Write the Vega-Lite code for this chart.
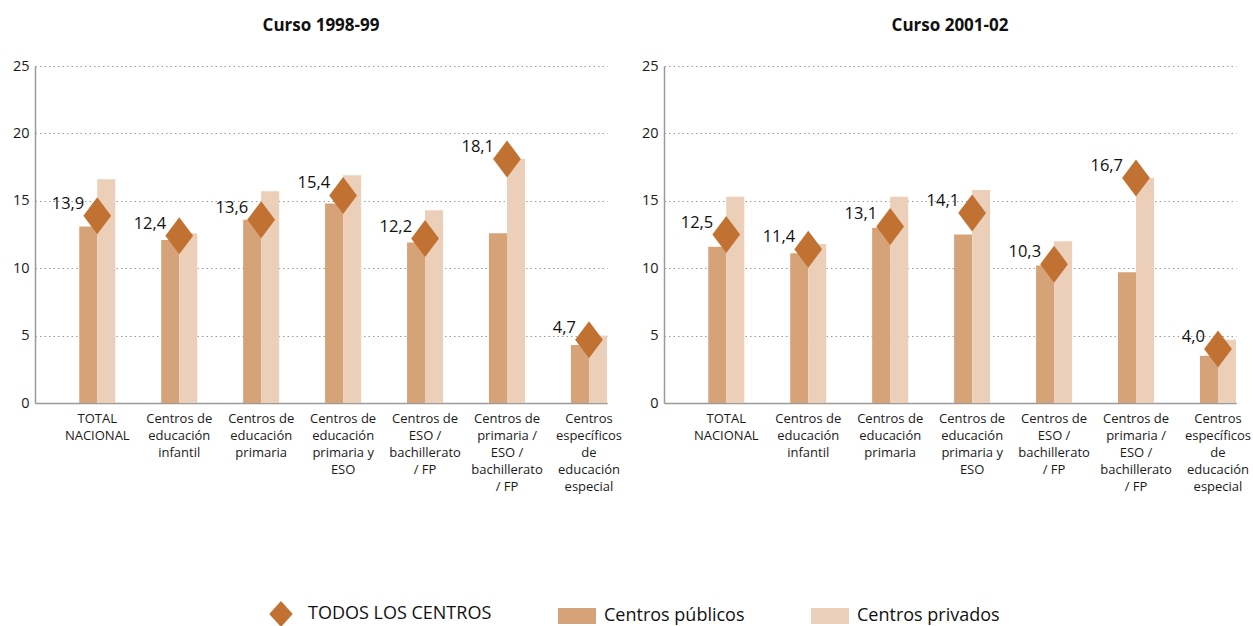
{
  "$schema": "https://vega.github.io/schema/vega-lite/v6.json",
  "padding": {"left": 12, "top": 17, "right": 5, "bottom": 5},
  "config": {
    "locale": {"number": {"decimal": ",", "thousands": ".", "grouping": [3], "currency": ["", " €"]}},
    "font": "Open Sans",
    "view": {"stroke": null},
    "axis": {"labelColor": "#1a1a1a", "titleColor": "#1a1a1a"},
    "legend": {"layout": {"bottom": {"anchor": "middle"}}}
  },
  "data": {"values": [
    {"curso": "Curso 1998-99", "centro": "TOTAL NACIONAL", "tipo": "TODOS LOS CENTROS", "valor": 13.9},
    {"curso": "Curso 1998-99", "centro": "TOTAL NACIONAL", "tipo": "Centros públicos", "valor": 13.1},
    {"curso": "Curso 1998-99", "centro": "TOTAL NACIONAL", "tipo": "Centros privados", "valor": 16.6},
    {"curso": "Curso 1998-99", "centro": "Centros de educación infantil", "tipo": "TODOS LOS CENTROS", "valor": 12.4},
    {"curso": "Curso 1998-99", "centro": "Centros de educación infantil", "tipo": "Centros públicos", "valor": 12.1},
    {"curso": "Curso 1998-99", "centro": "Centros de educación infantil", "tipo": "Centros privados", "valor": 12.6},
    {"curso": "Curso 1998-99", "centro": "Centros de educación primaria", "tipo": "TODOS LOS CENTROS", "valor": 13.6},
    {"curso": "Curso 1998-99", "centro": "Centros de educación primaria", "tipo": "Centros públicos", "valor": 13.6},
    {"curso": "Curso 1998-99", "centro": "Centros de educación primaria", "tipo": "Centros privados", "valor": 15.7},
    {"curso": "Curso 1998-99", "centro": "Centros de educación primaria y ESO", "tipo": "TODOS LOS CENTROS", "valor": 15.4},
    {"curso": "Curso 1998-99", "centro": "Centros de educación primaria y ESO", "tipo": "Centros públicos", "valor": 14.8},
    {"curso": "Curso 1998-99", "centro": "Centros de educación primaria y ESO", "tipo": "Centros privados", "valor": 16.9},
    {"curso": "Curso 1998-99", "centro": "Centros de ESO / bachillerato / FP", "tipo": "TODOS LOS CENTROS", "valor": 12.2},
    {"curso": "Curso 1998-99", "centro": "Centros de ESO / bachillerato / FP", "tipo": "Centros públicos", "valor": 11.9},
    {"curso": "Curso 1998-99", "centro": "Centros de ESO / bachillerato / FP", "tipo": "Centros privados", "valor": 14.3},
    {"curso": "Curso 1998-99", "centro": "Centros de primaria / ESO / bachillerato / FP", "tipo": "TODOS LOS CENTROS", "valor": 18.1},
    {"curso": "Curso 1998-99", "centro": "Centros de primaria / ESO / bachillerato / FP", "tipo": "Centros públicos", "valor": 12.6},
    {"curso": "Curso 1998-99", "centro": "Centros de primaria / ESO / bachillerato / FP", "tipo": "Centros privados", "valor": 18.1},
    {"curso": "Curso 1998-99", "centro": "Centros específicos de educación especial", "tipo": "TODOS LOS CENTROS", "valor": 4.7},
    {"curso": "Curso 1998-99", "centro": "Centros específicos de educación especial", "tipo": "Centros públicos", "valor": 4.3},
    {"curso": "Curso 1998-99", "centro": "Centros específicos de educación especial", "tipo": "Centros privados", "valor": 5.0},
    {"curso": "Curso 2001-02", "centro": "TOTAL NACIONAL", "tipo": "TODOS LOS CENTROS", "valor": 12.5},
    {"curso": "Curso 2001-02", "centro": "TOTAL NACIONAL", "tipo": "Centros públicos", "valor": 11.6},
    {"curso": "Curso 2001-02", "centro": "TOTAL NACIONAL", "tipo": "Centros privados", "valor": 15.3},
    {"curso": "Curso 2001-02", "centro": "Centros de educación infantil", "tipo": "TODOS LOS CENTROS", "valor": 11.4},
    {"curso": "Curso 2001-02", "centro": "Centros de educación infantil", "tipo": "Centros públicos", "valor": 11.1},
    {"curso": "Curso 2001-02", "centro": "Centros de educación infantil", "tipo": "Centros privados", "valor": 11.8},
    {"curso": "Curso 2001-02", "centro": "Centros de educación primaria", "tipo": "TODOS LOS CENTROS", "valor": 13.1},
    {"curso": "Curso 2001-02", "centro": "Centros de educación primaria", "tipo": "Centros públicos", "valor": 13.0},
    {"curso": "Curso 2001-02", "centro": "Centros de educación primaria", "tipo": "Centros privados", "valor": 15.3},
    {"curso": "Curso 2001-02", "centro": "Centros de educación primaria y ESO", "tipo": "TODOS LOS CENTROS", "valor": 14.1},
    {"curso": "Curso 2001-02", "centro": "Centros de educación primaria y ESO", "tipo": "Centros públicos", "valor": 12.5},
    {"curso": "Curso 2001-02", "centro": "Centros de educación primaria y ESO", "tipo": "Centros privados", "valor": 15.8},
    {"curso": "Curso 2001-02", "centro": "Centros de ESO / bachillerato / FP", "tipo": "TODOS LOS CENTROS", "valor": 10.3},
    {"curso": "Curso 2001-02", "centro": "Centros de ESO / bachillerato / FP", "tipo": "Centros públicos", "valor": 10.2},
    {"curso": "Curso 2001-02", "centro": "Centros de ESO / bachillerato / FP", "tipo": "Centros privados", "valor": 12.0},
    {"curso": "Curso 2001-02", "centro": "Centros de primaria / ESO / bachillerato / FP", "tipo": "TODOS LOS CENTROS", "valor": 16.7},
    {"curso": "Curso 2001-02", "centro": "Centros de primaria / ESO / bachillerato / FP", "tipo": "Centros públicos", "valor": 9.7},
    {"curso": "Curso 2001-02", "centro": "Centros de primaria / ESO / bachillerato / FP", "tipo": "Centros privados", "valor": 16.7},
    {"curso": "Curso 2001-02", "centro": "Centros específicos de educación especial", "tipo": "TODOS LOS CENTROS", "valor": 4.0},
    {"curso": "Curso 2001-02", "centro": "Centros específicos de educación especial", "tipo": "Centros públicos", "valor": 3.5},
    {"curso": "Curso 2001-02", "centro": "Centros específicos de educación especial", "tipo": "Centros privados", "valor": 4.7}
  ]},
  "facet": {
    "column": {
      "field": "curso", "type": "nominal",
      "sort": ["Curso 1998-99", "Curso 2001-02"],
      "header": {"title": null, "labelFontSize": 17, "labelFontWeight": "bold", "labelColor": "#111", "labelPadding": 23, "labelFont": "Open Sans"}
    }
  },
  "spacing": 19,
  "resolve": {"axis": {"y": "independent", "x": "independent"}},
  "spec": {
    "width": 572,
    "height": 337,
    "encoding": {
      "x": {
        "field": "centro", "type": "nominal",
        "sort": ["TOTAL NACIONAL", "Centros de educación infantil", "Centros de educación primaria", "Centros de educación primaria y ESO", "Centros de ESO / bachillerato / FP", "Centros de primaria / ESO / bachillerato / FP", "Centros específicos de educación especial"],
        "scale": {"paddingInner": 0.56, "paddingOuter": 0.27, "align": 1},
        "axis": {
          "title": null, "labelAngle": 0, "ticks": false, "domainColor": "#9a9a9a", "domainWidth": 1.5,
          "labelFontSize": 13, "labelLineHeight": 17, "labelPadding": 9, "labelBaseline": "top",
          "labelExpr": "datum.label == 'TOTAL NACIONAL' ? ['TOTAL', 'NACIONAL'] : datum.label == 'Centros de educación infantil' ? ['Centros de', 'educación', 'infantil'] : datum.label == 'Centros de educación primaria' ? ['Centros de', 'educación', 'primaria'] : datum.label == 'Centros de educación primaria y ESO' ? ['Centros de', 'educación', 'primaria y', 'ESO'] : datum.label == 'Centros de ESO / bachillerato / FP' ? ['Centros de', 'ESO /', 'bachillerato', '/ FP'] : datum.label == 'Centros de primaria / ESO / bachillerato / FP' ? ['Centros de', 'primaria /', 'ESO /', 'bachillerato', '/ FP'] : ['Centros', 'específicos', 'de', 'educación', 'especial']"
        }
      },
      "y": {
        "field": "valor", "type": "quantitative",
        "scale": {"domain": [0, 25]},
        "axis": {
          "title": null, "values": [0, 5, 10, 15, 20, 25], "ticks": false, "domainColor": "#9a9a9a", "domainWidth": 1.5,
          "gridColor": "#9a9a9a", "gridDash": [1.5, 3], "gridWidth": 1,
          "labelFontSize": 14.5, "labelPadding": 6
        }
      }
    },
    "layer": [
      {
        "transform": [{"filter": "datum.tipo != 'TODOS LOS CENTROS'"}],
        "mark": {"type": "bar"},
        "encoding": {
          "xOffset": {"field": "tipo", "type": "nominal", "sort": ["Centros públicos", "Centros privados"], "scale": {"paddingInner": 0, "paddingOuter": 0}},
          "color": {
            "field": "tipo", "type": "nominal",
            "scale": {"domain": ["TODOS LOS CENTROS", "Centros públicos", "Centros privados"], "range": ["#C17233", "#D6A378", "#EBCFB9"]},
            "legend": {
              "title": null, "orient": "bottom", "direction": "horizontal", "offset": 102,
              "labelFontSize": 18, "labelColor": "#111", "labelLimit": 400, "columnPadding": 66, "labelOffset": 8,
              "symbolSize": 1444, "symbolOpacity": 1, "symbolStrokeWidth": 0,
              "encode": {"symbols": {"update": {"shape": {"signal": "datum.value === 'TODOS LOS CENTROS' ? 'M0,-0.68L0.62,0L0,0.68L-0.62,0Z' : 'M-1,-0.42H1V0.42H-1Z'"}}}}
            }
          }
        }
      },
      {
        "transform": [{"filter": "datum.tipo == 'TODOS LOS CENTROS'"}],
        "mark": {"type": "point", "filled": true, "opacity": 1, "shape": "M0,-1L0.75,0L0,1L-0.75,0Z", "size": 1369, "strokeWidth": 0},
        "encoding": {
          "color": {"field": "tipo", "type": "nominal"}
        }
      },
      {
        "transform": [{"filter": "datum.tipo == 'TODOS LOS CENTROS'"}],
        "mark": {"type": "text", "align": "right", "baseline": "middle", "dx": -13, "dy": -12, "fontSize": 16.5, "color": "#111"},
        "encoding": {
          "text": {"field": "valor", "type": "quantitative", "format": ".1f"}
        }
      }
    ]
  }
}
